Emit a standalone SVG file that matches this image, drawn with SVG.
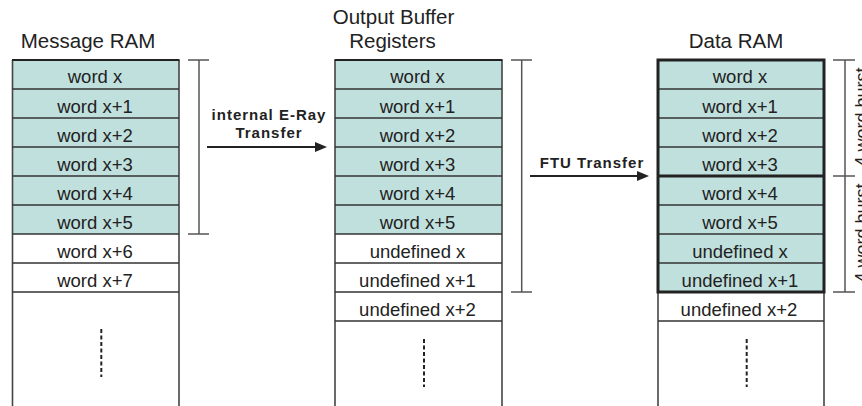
<svg xmlns="http://www.w3.org/2000/svg" width="862" height="406" viewBox="0 0 862 406">
<style>
  .t { font-family: "Liberation Sans", Arial, sans-serif; fill: #222; }
  .title { font-size: 20.5px; text-anchor: middle; }
  .cell { font-size: 18.5px; text-anchor: middle; }
  .lbl { font-size: 15px; font-weight: bold; letter-spacing: 1px; text-anchor: middle; }
  .teal { fill: #c0e0de; stroke: none; }
  .side { stroke: #444; stroke-width: 1.6; fill: none; }
  .row { stroke: #333; stroke-width: 1.5; fill: none; }
  .top { stroke: #222; stroke-width: 2.2; fill: none; }
  .thick { stroke: #222; stroke-width: 3; fill: none; }
  .br { stroke: #555; stroke-width: 1.5; fill: none; }
  .dash { stroke: #222; stroke-width: 2; stroke-dasharray: 4 2.5; fill: none; }
  .arr { stroke: #222; stroke-width: 2; fill: none; }
</style>

<g id="message-ram">
  <text class="t title" x="88" y="48">Message RAM</text>
  <rect class="teal" x="12.5" y="60" width="166.5" height="174"/>
  <line class="side" x1="12.5" y1="60" x2="12.5" y2="406"/>
  <line class="side" x1="179" y1="60" x2="179" y2="406"/>
  <line class="top" x1="12" y1="60" x2="179.5" y2="60"/>
  <line class="row" x1="12.5" y1="89" x2="179" y2="89"/>
  <line class="row" x1="12.5" y1="118" x2="179" y2="118"/>
  <line class="row" x1="12.5" y1="147" x2="179" y2="147"/>
  <line class="row" x1="12.5" y1="176" x2="179" y2="176"/>
  <line class="row" x1="12.5" y1="205" x2="179" y2="205"/>
  <line class="row" x1="12.5" y1="234" x2="179" y2="234"/>
  <line class="row" x1="12.5" y1="263" x2="179" y2="263"/>
  <line class="row" x1="12.5" y1="292" x2="179" y2="292"/>
  <text class="t cell" x="95" y="83">word x</text>
  <text class="t cell" x="95" y="113">word x+1</text>
  <text class="t cell" x="95" y="142">word x+2</text>
  <text class="t cell" x="95" y="171">word x+3</text>
  <text class="t cell" x="95" y="200">word x+4</text>
  <text class="t cell" x="95" y="229">word x+5</text>
  <text class="t cell" x="95" y="258">word x+6</text>
  <text class="t cell" x="95" y="287">word x+7</text>
  <line class="dash" x1="101.3" y1="329" x2="101.3" y2="377"/>
  <path class="br" d="M188 60H209M199 60V234M188 234H209"/>
</g>

<g id="output-buffer">
  <text class="t title" x="393.5" y="24">Output Buffer</text>
  <text class="t title" x="392.5" y="48">Registers</text>
  <rect class="teal" x="335" y="60" width="167" height="174"/>
  <line class="side" x1="335" y1="60" x2="335" y2="406"/>
  <line class="side" x1="502" y1="60" x2="502" y2="406"/>
  <line class="top" x1="334.5" y1="60" x2="502.5" y2="60"/>
  <line class="row" x1="335" y1="89" x2="502" y2="89"/>
  <line class="row" x1="335" y1="118" x2="502" y2="118"/>
  <line class="row" x1="335" y1="147" x2="502" y2="147"/>
  <line class="row" x1="335" y1="176" x2="502" y2="176"/>
  <line class="row" x1="335" y1="205" x2="502" y2="205"/>
  <line class="row" x1="335" y1="234" x2="502" y2="234"/>
  <line class="row" x1="335" y1="263" x2="502" y2="263"/>
  <line class="row" x1="335" y1="292" x2="502" y2="292"/>
  <line class="row" x1="335" y1="321" x2="502" y2="321"/>
  <text class="t cell" x="417.5" y="83">word x</text>
  <text class="t cell" x="417.5" y="113">word x+1</text>
  <text class="t cell" x="417.5" y="142">word x+2</text>
  <text class="t cell" x="417.5" y="171">word x+3</text>
  <text class="t cell" x="417.5" y="200">word x+4</text>
  <text class="t cell" x="417.5" y="229">word x+5</text>
  <text class="t cell" x="417.5" y="258">undefined x</text>
  <text class="t cell" x="417.5" y="287">undefined x+1</text>
  <text class="t cell" x="417.5" y="316">undefined x+2</text>
  <line class="dash" x1="424" y1="339" x2="424" y2="387"/>
  <path class="br" d="M511 60H532M521.7 60V292M511 292H532"/>
</g>

<g id="data-ram">
  <text class="t title" x="736" y="48">Data RAM</text>
  <rect class="teal" x="658" y="60" width="166" height="232"/>
  <line class="side" x1="658" y1="292" x2="658" y2="406"/>
  <line class="side" x1="824" y1="292" x2="824" y2="406"/>
  <line class="row" x1="658" y1="89" x2="824" y2="89"/>
  <line class="row" x1="658" y1="118" x2="824" y2="118"/>
  <line class="row" x1="658" y1="147" x2="824" y2="147"/>
  <line class="row" x1="658" y1="205" x2="824" y2="205"/>
  <line class="row" x1="658" y1="234" x2="824" y2="234"/>
  <line class="row" x1="658" y1="263" x2="824" y2="263"/>
  <line class="row" x1="658" y1="321" x2="824" y2="321"/>
  <rect class="thick" x="658" y="60" width="166" height="232"/>
  <line class="thick" x1="658" y1="176" x2="824" y2="176"/>
  <text class="t cell" x="740" y="83">word x</text>
  <text class="t cell" x="740" y="113">word x+1</text>
  <text class="t cell" x="740" y="142">word x+2</text>
  <text class="t cell" x="740" y="171">word x+3</text>
  <text class="t cell" x="740" y="200">word x+4</text>
  <text class="t cell" x="740" y="229">word x+5</text>
  <text class="t cell" x="740" y="258">undefined x</text>
  <text class="t cell" x="740" y="287">undefined x+1</text>
  <text class="t cell" x="739" y="316">undefined x+2</text>
  <line class="dash" x1="746.7" y1="339" x2="746.7" y2="387"/>
  <path class="br" d="M833 60H855M845 60V292M833 176H855M833 292H855"/>
  <text class="t" font-size="18" text-anchor="middle" transform="translate(868 117) rotate(-90)">4 word burst</text>
  <text class="t" font-size="18" text-anchor="middle" transform="translate(868 233) rotate(-90)">4 word burst</text>
</g>

<g id="connectors">
  <g id="internal-transfer">
    <line class="arr" x1="207" y1="147" x2="318" y2="147"/>
    <polygon points="315,142 327,147 315,152" fill="#222"/>
    <text class="t lbl" x="269" y="120">internal E-Ray</text>
    <text class="t lbl" x="269" y="138">Transfer</text>
  </g>
  <g id="ftu-transfer">
    <line class="arr" x1="530" y1="176" x2="640" y2="176"/>
    <polygon points="637,171 649,176 637,181" fill="#222"/>
    <text class="t lbl" x="592" y="168">FTU Transfer</text>
  </g>
</g>
</svg>
